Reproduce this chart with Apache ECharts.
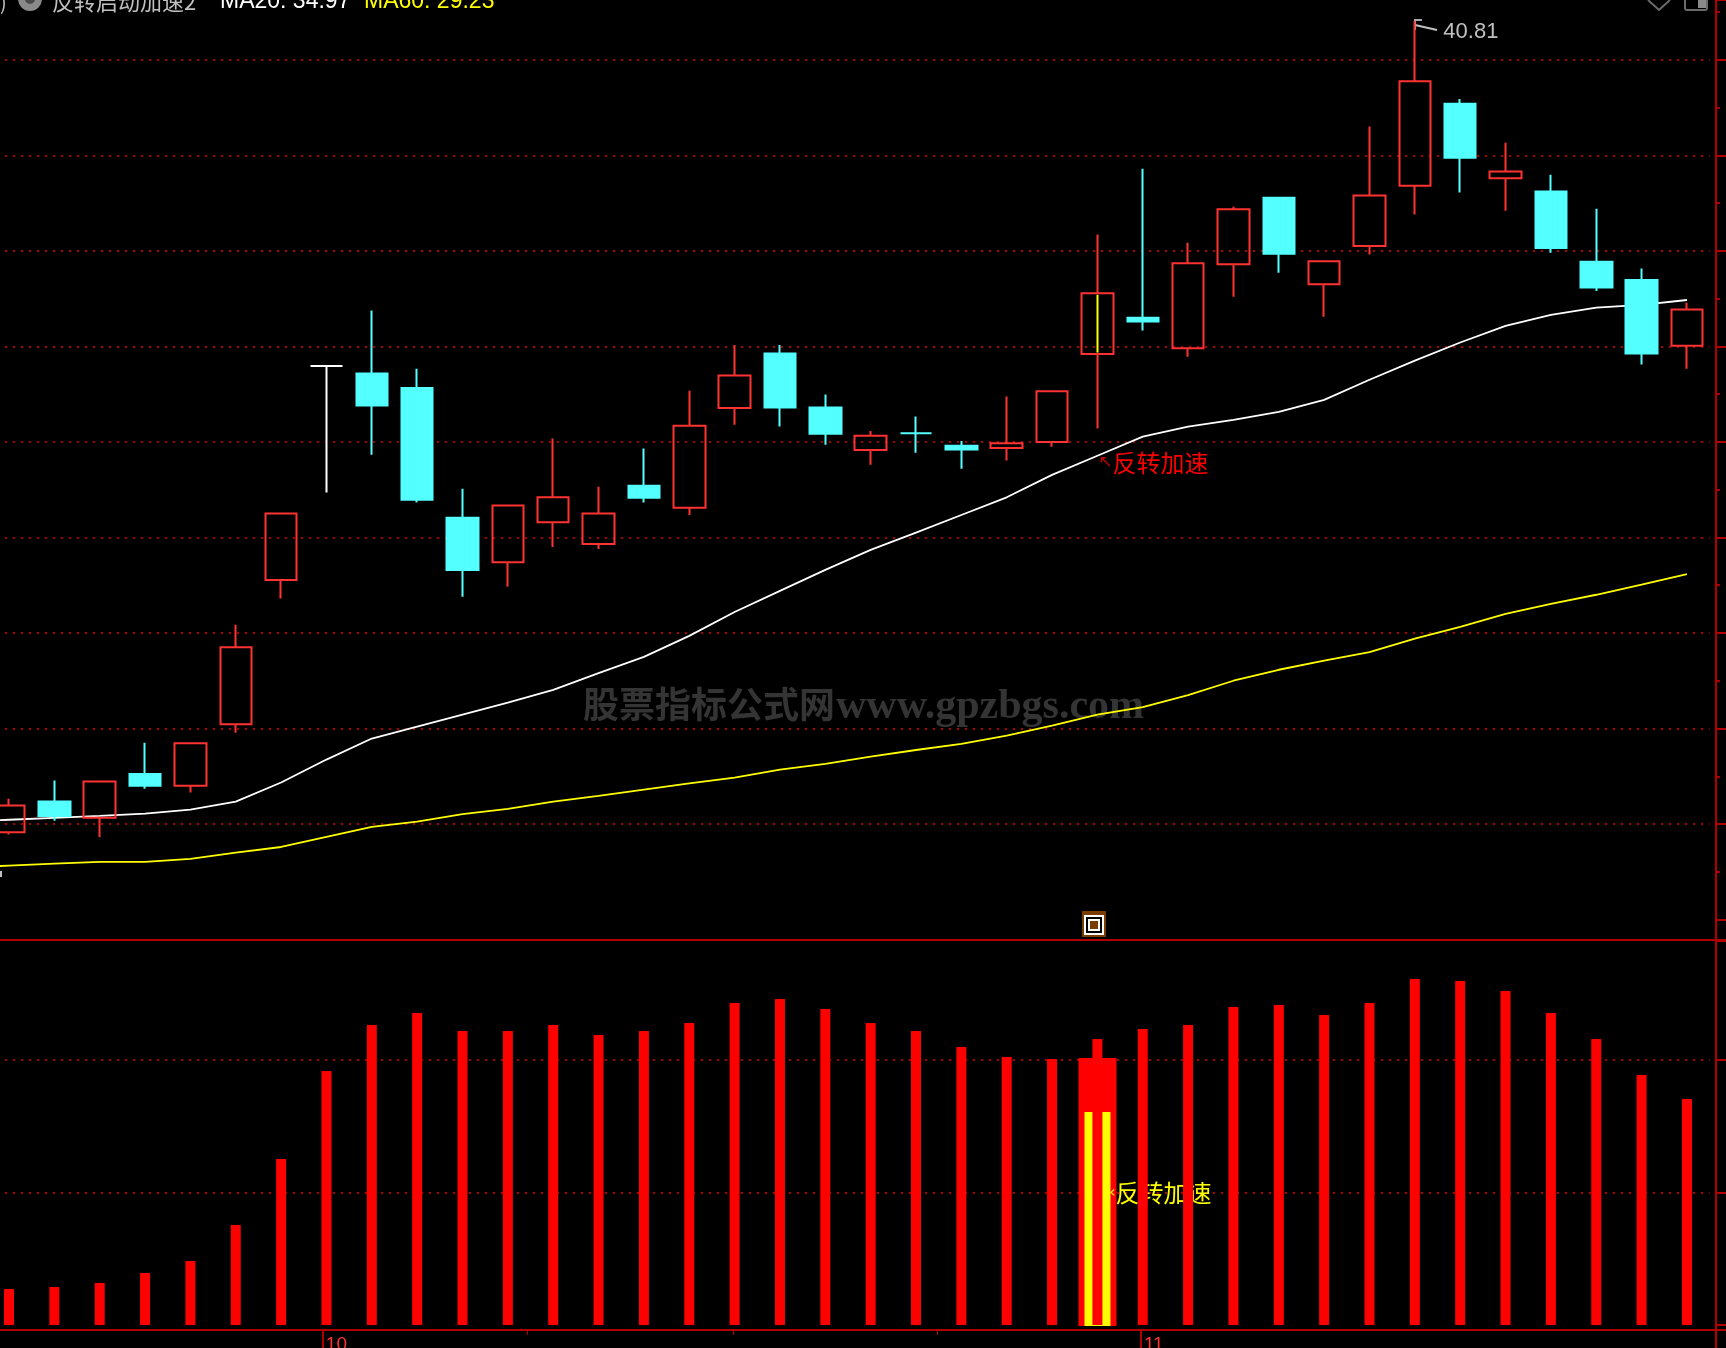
<!DOCTYPE html>
<html>
<head>
<meta charset="utf-8">
<style>html,body{margin:0;padding:0;background:#000;overflow:hidden}#c{width:1726px;height:1348px}</style>
<script src="https://cdn.jsdelivr.net/npm/echarts@6/dist/echarts.min.js"></script>
</head>
<body>
<div id="c"></div>
<script>
// Session labels; the first session lies just off the left edge, only its moving averages reach the picture
const categories = ['d00','d01','d02','d03','d04','d05','d06','d07','d08','d09','d10','d11','d12','d13','d14','d15','d16','d17','d18','d19','d20','d21','d22','d23','d24','d25','d26','d27','d28','d29','d30','d31','d32','d33','d34','d35','d36','d37','d38'];
// Candles
const opens  = [null,23.83,24.47,24.13,25.05,24.80,26.09,29.11,33.59,33.43,33.13,30.41,29.48,30.32,29.86,31.08,30.62,32.71,33.85,32.72,31.83,32.18,31.92,31.87,32.00,33.84,34.60,33.96,35.72,37.11,35.30,36.10,37.36,39.08,37.52,37.24,35.77,35.39,34.01];
const closes = [null,24.39,24.17,24.89,24.80,25.69,27.70,30.50,33.59,32.76,30.79,29.32,30.67,30.84,30.50,30.83,32.34,33.39,32.72,32.17,32.13,32.18,31.84,31.97,33.06,35.11,34.52,35.74,36.87,35.94,35.78,37.16,39.55,37.95,37.66,36.06,35.23,33.85,34.77];
const lows   = [null,23.78,24.07,23.73,24.74,24.66,25.91,28.72,30.94,31.73,30.73,28.76,28.97,29.80,29.76,30.73,30.47,32.36,32.32,31.94,31.52,31.77,31.44,31.61,31.90,32.28,34.33,33.78,35.04,35.54,34.62,35.92,36.76,37.22,36.84,35.96,35.16,33.62,33.53];
const highs  = [null,24.53,24.91,24.89,25.70,25.69,28.17,30.50,33.59,34.75,33.53,31.02,30.67,32.07,31.06,31.86,33.07,34.03,34.03,32.99,32.23,32.53,32.02,32.95,33.06,36.34,37.72,36.17,36.92,37.13,35.78,38.60,40.81,39.18,38.26,37.59,36.88,35.63,34.91];
// Moving averages
const ma20 = [24.05,24.09,24.13,24.17,24.22,24.30,24.47,24.87,25.35,25.79,26.04,26.29,26.54,26.81,27.16,27.50,27.94,28.44,28.88,29.32,29.74,30.10,30.47,30.84,31.31,31.71,32.11,32.32,32.46,32.63,32.88,33.30,33.70,34.08,34.43,34.66,34.81,34.87,34.97];
const ma60 = [23.09,23.13,23.17,23.21,23.21,23.27,23.40,23.52,23.73,23.94,24.05,24.21,24.32,24.47,24.59,24.72,24.85,24.97,25.14,25.26,25.41,25.55,25.68,25.85,26.06,26.29,26.45,26.70,27.00,27.23,27.42,27.60,27.88,28.13,28.40,28.61,28.80,29.01,29.23];
// Lower indicator panel
const indicator = [null,5.43,5.74,6.34,7.85,9.66,15.09,25.06,38.34,45.28,47.09,44.38,44.38,45.28,43.77,44.38,45.58,48.60,49.21,47.70,45.58,44.38,41.96,40.45,40.15,43.17,44.68,45.28,48.00,48.30,46.79,48.60,52.23,51.92,50.42,47.09,43.17,37.74,34.11];
const signalIndex = 25;
const signalBlock = 40.15;
const signalStrip = 32;
const signalCandleBody = [33.87, 35.08];
// Axis ticks, in session slots measured from the left edge of the frame
const dateTickSlots = [7.42, 25.46, 38.14];
const dateTickLabels = ['10', '11', ''];
const minorDateTickSlots = [11.92, 16.46, 20.96];
const limitDayIndex = 8;
const crossDayIndex = 21;
const peakIndex = 32;
const peakLabel = '40.81';
const signalText = '反转加速';
const watermarkCjk = '股票指标公式网';
const watermarkLatin = 'www.gpzbgs.com';

const RED = '#ff3232', CYAN = '#54ffff', AXIS = '#b00000';
const CJK = '"Noto Sans CJK SC","Liberation Sans",sans-serif';

const candles = categories.map((_, i) => {
  const value = [opens[i], closes[i], lows[i], highs[i]];
  if (opens[i] === null) return ['-','-','-','-'];
  if (i === limitDayIndex) return {value, itemStyle:{color:'#fff',color0:'#fff',borderColor:'#fff',borderColor0:'#fff',borderColorDoji:'#fff'}};
  if (i === crossDayIndex) return {value, itemStyle:{borderColorDoji:CYAN}};
  return {value};
});
const only = (v) => categories.map((_, i) => i === signalIndex ? v : ['-','-','-','-']);
const frameLeft = -13.67, band = 45.35, left = frameLeft - band;
const hiddenMark = {symbol:'circle', symbolSize:1, itemStyle:{color:'transparent'}, silent:true};

const option = {
  backgroundColor:'#000',
  animation:false,
  tooltip:{show:false},
  grid:[
    {left, top:0, width:band*39, height:919.6, outerBoundsMode:'none'},
    {left, top:941, width:band*39, height:384, outerBoundsMode:'none'},
    {left:frameLeft, top:0, width:1729.67, height:1330, outerBoundsMode:'none'},
    {left:frameLeft, top:940, width:1739.67, height:390, outerBoundsMode:'none'}
  ],
  xAxis:[
    {type:'category', gridIndex:0, data:categories, show:false},
    {type:'category', gridIndex:1, data:categories, show:false},
    {type:'value', gridIndex:2, min:0, max:38.14, position:'bottom', splitLine:{show:false},
      axisLine:{show:false,onZero:false},
      axisTick:{show:true,customValues:dateTickSlots,length:18,lineStyle:{color:AXIS,width:2}},
      axisLabel:{show:true,customValues:dateTickSlots,color:RED,fontSize:19,fontFamily:'"Liberation Sans",sans-serif',align:'left',margin:5,padding:[0,0,0,3],
        formatter:(v)=>dateTickLabels[dateTickSlots.indexOf(v)]||''}},
    {type:'value', gridIndex:3, min:0, max:38.36, position:'top', splitLine:{show:false},
      axisLine:{show:true,onZero:false,lineStyle:{color:AXIS,width:2}}, axisTick:{show:false}, axisLabel:{show:false}},
    {type:'value', gridIndex:3, min:0, max:38.36, position:'bottom', splitLine:{show:false},
      axisLine:{show:true,onZero:false,lineStyle:{color:AXIS,width:2}},
      axisTick:{show:true,customValues:minorDateTickSlots,length:5,lineStyle:{color:AXIS,width:1}}, axisLabel:{show:false}}
  ],
  yAxis:[
    {type:'value', gridIndex:0, position:'right', offset:6.3, min:22, max:41.25, interval:2,
      splitLine:{show:true,showMinLine:false,showMaxLine:false,lineStyle:{color:AXIS,width:2,type:[2,6]}},
      axisLine:{show:false}, axisLabel:{show:false},
      axisTick:{show:true,length:10,lineStyle:{color:AXIS,width:2}},
      minorTick:{show:true,splitNumber:2,length:4,lineStyle:{color:AXIS,width:2}}},
    {type:'value', gridIndex:1, position:'right', offset:6.3, min:0, max:57.96, interval:20,
      splitLine:{show:true,showMinLine:false,showMaxLine:false,lineStyle:{color:AXIS,width:2,type:[2,6]}},
      axisLine:{show:false}, axisLabel:{show:false},
      axisTick:{show:true,length:10,lineStyle:{color:AXIS,width:2}}},
    {type:'value', gridIndex:2, position:'right', min:0, max:1, splitLine:{show:false},
      axisLine:{show:true,onZero:false,lineStyle:{color:AXIS,width:2}}, axisTick:{show:false}, axisLabel:{show:false}},
    {type:'value', gridIndex:3, min:0, max:1, show:false}
  ],
  series:[
    {type:'line', name:'MA20', xAxisIndex:0, yAxisIndex:0, data:ma20, symbol:'none', z:2, silent:true,
      lineStyle:{color:'#fff',width:1.8},
      markPoint:{...hiddenMark, z:4, data:[{coord:[signalIndex, ma20[signalIndex]],
        label:{show:true, position:'inside', offset:[56,7], color:'#f00', fontSize:24, fontFamily:CJK, formatter:'{a|↖}'+signalText,
          rich:{a:{color:'#c00000',fontSize:17,fontFamily:'"DejaVu Sans",sans-serif'}}}}]}},
    {type:'line', name:'MA60', xAxisIndex:0, yAxisIndex:0, data:ma60, symbol:'none', z:2, silent:true,
      lineStyle:{color:'#ffff00',width:1.8}},
    {type:'candlestick', name:'K', xAxisIndex:0, yAxisIndex:0, data:candles, barWidth:32, z:3, silent:true,
      itemStyle:{color:'transparent',color0:CYAN,borderColor:RED,borderColor0:CYAN,borderWidth:2},
      markPoint:{...hiddenMark, z:5, data:[{coord:[peakIndex, highs[peakIndex]],
        label:{show:true, position:'inside', offset:[56,11], color:'#c0c0c0', fontSize:22, fontFamily:'"Liberation Sans",sans-serif', formatter:peakLabel}}]}},
    {type:'candlestick', name:'signalCandle', xAxisIndex:0, yAxisIndex:0, barWidth:1, z:4, silent:true,
      data:only([signalCandleBody[0],signalCandleBody[1],signalCandleBody[0],signalCandleBody[1]]),
      itemStyle:{color:'#ffff00',borderColor:'#ffff00',borderWidth:2}},
    {type:'candlestick', name:'signalBlock', xAxisIndex:1, yAxisIndex:1, barWidth:36, z:2, silent:true,
      data:only([0,signalBlock,0,signalBlock]), itemStyle:{color:'#f00',borderColor:'#f00',borderWidth:2}},
    {type:'candlestick', name:'signalStrip', xAxisIndex:1, yAxisIndex:1, barWidth:24, z:3, silent:true,
      data:only([0,signalStrip,0,signalStrip]), itemStyle:{color:'#ffff00',borderColor:'#ffff00',borderWidth:2},
      markPoint:{...hiddenMark, z:3, data:[{coord:[signalIndex, 20],
        label:{show:true, position:'inside', offset:[63,0], color:'#ffff00', fontSize:24, fontFamily:CJK, formatter:'{a|‹}'+signalText,
          rich:{a:{color:'#ffff00',fontSize:16,fontFamily:'"DejaVu Sans",sans-serif'}}}}]}},
    {type:'bar', name:'indicator', xAxisIndex:1, yAxisIndex:1, data:indicator, barWidth:10, z:5, silent:true,
      itemStyle:{color:'#f00'}}
  ],
  graphic:{elements:[
    {type:'text', z:0, silent:true, x:583, y:686, style:{text:watermarkCjk, fill:'#343434', font:'bold 36px "Noto Sans CJK SC",serif'}},
    {type:'text', z:0, silent:true, x:836, y:686, style:{text:watermarkLatin, fill:'#343434', font:'bold 42px "Liberation Serif",serif'}},
    {type:'text', silent:true, x:0, y:12, style:{text:')', fill:'#c0c0c0', font:'20px '+CJK, verticalAlign:'bottom'}},
    {type:'circle', silent:true, shape:{cx:30,cy:-1,r:12}, style:{fill:'#8a8a8a'}},
    {type:'circle', silent:true, shape:{cx:30,cy:-1,r:5}, style:{fill:'#4a4a4a'}},
    {type:'text', silent:true, x:52, y:13, style:{text:'反转启动加速2', fill:'#c0c0c0', font:'22px '+CJK, verticalAlign:'bottom'}},
    {type:'text', silent:true, x:220, y:13, style:{text:'MA20: 34.97', fill:'#ffffff', font:'23px "Liberation Sans",sans-serif', verticalAlign:'bottom'}},
    {type:'text', silent:true, x:364, y:13, style:{text:'MA60: 29.23', fill:'#ffff00', font:'23px "Liberation Sans",sans-serif', verticalAlign:'bottom'}},
    {type:'polyline', silent:true, shape:{points:[[1648,0],[1659,10],[1670,0]]}, style:{stroke:'#6a6a6a',lineWidth:2,fill:'none'}},
    {type:'rect', silent:true, shape:{x:1685,y:-10,width:22,height:20,r:2}, style:{stroke:'#6a6a6a',lineWidth:2,fill:'none'}},
    {type:'rect', silent:true, shape:{x:1698,y:0,width:8,height:8}, style:{fill:'#8a8a8a'}},
    {type:'polyline', silent:true, shape:{points:[[1415,30],[1415,20],[1422,20]]}, style:{stroke:'#a8a8a8',lineWidth:2,fill:'none'}},
    {type:'polyline', silent:true, shape:{points:[[1415,25],[1437,30]]}, style:{stroke:'#c0c0c0',lineWidth:2,fill:'none'}},
    {type:'rect', silent:true, shape:{x:1082,y:911,width:24,height:26}, style:{fill:'#7a3c00'}},
    {type:'rect', silent:true, shape:{x:1085,y:916,width:18,height:18}, style:{stroke:'#fff',lineWidth:2,fill:'#000'}},
    {type:'rect', silent:true, shape:{x:1089,y:920,width:10,height:10}, style:{stroke:'#fff',lineWidth:2,fill:'#7a3c00'}},
    {type:'rect', silent:true, shape:{x:0,y:871,width:2,height:6}, style:{fill:'#c0c0c0'}}
  ]}
};
const chart = echarts.init(document.getElementById('c'), null, {renderer:'canvas', width:1726, height:1348});
chart.setOption(option);
</script>
</body>
</html>
